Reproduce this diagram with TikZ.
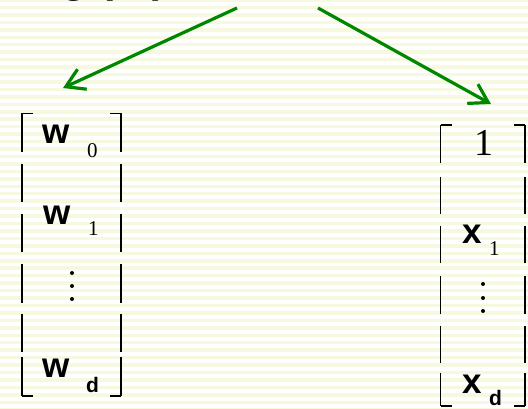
\documentclass[tikz,border=0pt]{standalone}
\usepackage{fontspec}
\setmainfont{Liberation Serif}
\newfontfamily\sansbold{Liberation Sans}[BoldFont={* Bold}]
\usetikzlibrary{arrows.meta}
\definecolor{stripe}{RGB}{246,248,224}
\definecolor{arrowgreen}{RGB}{0,135,0}
\tikzset{
  bigsans/.style={inner sep=0pt, anchor=base west, font=\sansbold\bfseries\fontsize{35}{35}\selectfont},
  subsans/.style={inner sep=0pt, anchor=base west, font=\sansbold\bfseries\fontsize{21}{21}\selectfont},
  subserif/.style={inner sep=0pt, anchor=base west, font=\fontsize{21}{21}\selectfont},
  bigserif/.style={inner sep=0pt, anchor=base west, font=\fontsize{38}{38}\selectfont},
  bracketline/.style={line width=1.4pt, black},
  greenarrow/.style={line width=3.2pt, arrowgreen, -{Straight Barb[length=18pt,width=22pt,line width=3.2pt]}},
  dotmark/.style={circle, fill=black, inner sep=0pt, minimum size=4pt}
}
\begin{document}
\begin{tikzpicture}[x=1pt,y=-1pt]
\useasboundingbox (0,0) rectangle (528,408);
\clip (0,0) rectangle (528,408);
% striped background
\fill[white] (0,0) rectangle (528,408);
\foreach \k in {0,...,55}{
  \fill[stripe] (0,{\k*7.45-1.75}) rectangle (528,{\k*7.45+1.75});
}
% partially visible title
\node[inner sep=0pt, anchor=base west, font=\sansbold\bfseries\fontsize{42}{42}\selectfont] (gx) at (61,-8) {g\hspace{13pt}(\hspace{5pt}x\hspace{10pt})};
% arrow anchors
\coordinate (srcL) at (237,8);
\coordinate (srcR) at (318,8);
\coordinate (tipL) at (63,88);
\coordinate (tipR) at (491,104);
\draw[greenarrow] (srcL) -- (tipL);
\draw[greenarrow] (srcR) -- (tipR);
% left matrix brackets
\foreach \a/\b in {113.3/151.7,164.3/202.3,214.3/252.3,264/302.7,314/352.3,357.3/396}{
  \draw[bracketline] (22,\a) -- (22,\b);
  \draw[bracketline] (121,\a) -- (121,\b);
}
\draw[bracketline] (22,113.3) -- (33,113.3);
\draw[bracketline] (121,113.3) -- (110,113.3);
\draw[bracketline] (22,396) -- (33,396);
\draw[bracketline] (121,396) -- (110,396);
% right matrix brackets
\foreach \a/\b in {125/163,177/214,226/263,276/314,326/363,373/406}{
  \draw[bracketline] (440.7,\a) -- (440.7,\b);
  \draw[bracketline] (525,\a) -- (525,\b);
}
\draw[bracketline] (440.7,125) -- (451.7,125);
\draw[bracketline] (525,125) -- (514,125);
\draw[bracketline] (440.7,406) -- (451.7,406);
\draw[bracketline] (525,406) -- (514,406);
% left matrix entries
\node[bigsans] (w0) at (42,143) {w};
\node[subserif] (w0s) at (87,157) {0};
\node[bigsans] (w1) at (43,224) {w};
\node[subserif] (w1s) at (88,235) {1};
\node[dotmark] (ld1) at (72,273) {};
\node[dotmark] (ld2) at (72,286) {};
\node[dotmark] (ld3) at (72,299) {};
\node[bigsans] (wd) at (42,377) {w};
\node[subsans] (wds) at (86,392) {d};
% right matrix entries
\node[bigserif] (one) at (474,155) {1};
\node[bigsans] (x1) at (462,243) {x};
\node[subserif] (x1s) at (489,255) {1};
\node[dotmark] (rd1) at (483,284) {};
\node[dotmark] (rd2) at (483,298) {};
\node[dotmark] (rd3) at (483,311) {};
\node[bigsans] (xd) at (462,393) {x};
\node[subsans] (xds) at (489,405) {d};
\end{tikzpicture}
\end{document}
